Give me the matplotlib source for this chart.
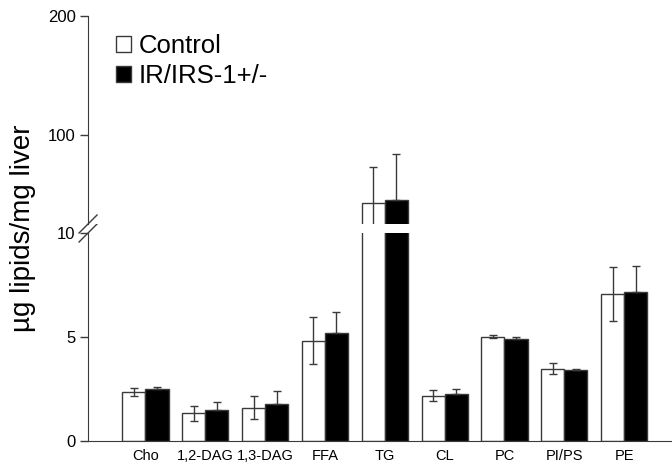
import matplotlib
matplotlib.use("Agg")
import matplotlib.pyplot as plt
from matplotlib.patches import Patch
import numpy as np

plt.rcParams['font.family'] = ['Liberation Sans', 'DejaVu Sans']

categories = ["Cho", "1,2-DAG", "1,3-DAG", "FFA", "TG", "CL", "PC", "PI/PS", "PE"]
control_mean = [2.34, 1.33, 1.60, 4.82, 42.3, 2.18, 5.01, 3.48, 7.08]
control_err = [0.20, 0.35, 0.55, 1.12, 30.4, 0.25, 0.08, 0.28, 1.30]
irs_mean = [2.51, 1.47, 1.79, 5.18, 45.0, 2.26, 4.90, 3.41, 7.15]
irs_err = [0.10, 0.40, 0.63, 1.00, 39.0, 0.23, 0.08, 0.05, 1.25]
series_labels = ["Control", "IR/IRS-1+/-"]

lower_ticks = [0, 5, 10]
upper_ticks = [100, 200]

x = np.arange(len(categories))
width = 0.385
edge = "#3a3a3a"

fig = plt.figure(figsize=(6.72, 4.69), dpi=100)
ax_lo = fig.add_axes([0.131, 0.0597, 0.869, 0.4435])
ax_hi = fig.add_axes([0.131, 0.5224, 0.869, 0.4435], sharex=ax_lo)

err_kw = dict(ecolor=edge, elinewidth=1.0, capsize=3.2, capthick=1.0)
for ax in (ax_lo, ax_hi):
    ax.bar(x - width / 2, control_mean, width, color="white", edgecolor=edge,
           linewidth=1.0, yerr=control_err, error_kw=err_kw)
    ax.bar(x + width / 2, irs_mean, width, color="black", edgecolor=edge,
           linewidth=1.0, yerr=[np.zeros(len(irs_err)), irs_err], error_kw=err_kw)
    for side in ("top", "right"):
        ax.spines[side].set_visible(False)
    ax.spines["left"].set_color(edge)
    ax.spines["bottom"].set_color(edge)
    ax.tick_params(axis="y", direction="out", length=6, width=1.0, color=edge,
                   labelsize=12, pad=3)

ax_lo.set_xlim(-0.96, 8.80)
ax_lo.set_ylim(0, 10)
ax_lo.set_yticks(lower_ticks)
ax_lo.set_xticks(x)
ax_lo.set_xticklabels(categories, fontsize=10.5)
ax_lo.tick_params(axis="x", length=0, pad=6)

ax_hi.set_ylim(25, 200)
ax_hi.set_yticks(upper_ticks)
ax_hi.spines["bottom"].set_visible(False)
ax_hi.tick_params(axis="x", bottom=False, labelbottom=False)

# axis break marks
d = 9
for ax, yfrac in ((ax_hi, 0.0), (ax_lo, 1.0)):
    bb = ax.get_window_extent()
    px_x = d / bb.width
    px_y = d / bb.height
    ax.plot([-px_x, px_x], [yfrac - px_y, yfrac + px_y], transform=ax.transAxes,
            color=edge, lw=1.0, clip_on=False)

fig.text(0.034, 0.513, "µg lipids/mg liver", rotation=90, fontsize=20,
         ha="center", va="center")

handles = [Patch(facecolor="white", edgecolor=edge, linewidth=1.0),
           Patch(facecolor="black", edgecolor=edge, linewidth=1.0)]
ax_hi.legend(handles, series_labels, loc="upper left", bbox_to_anchor=(0.172, 0.928),
             bbox_transform=fig.transFigure, frameon=False, fontsize=18.5,
             handlelength=0.6, handleheight=0.6, handletextpad=0.3,
             labelspacing=0.25, borderpad=0, borderaxespad=0)

fig.savefig("out.png", dpi=100)
